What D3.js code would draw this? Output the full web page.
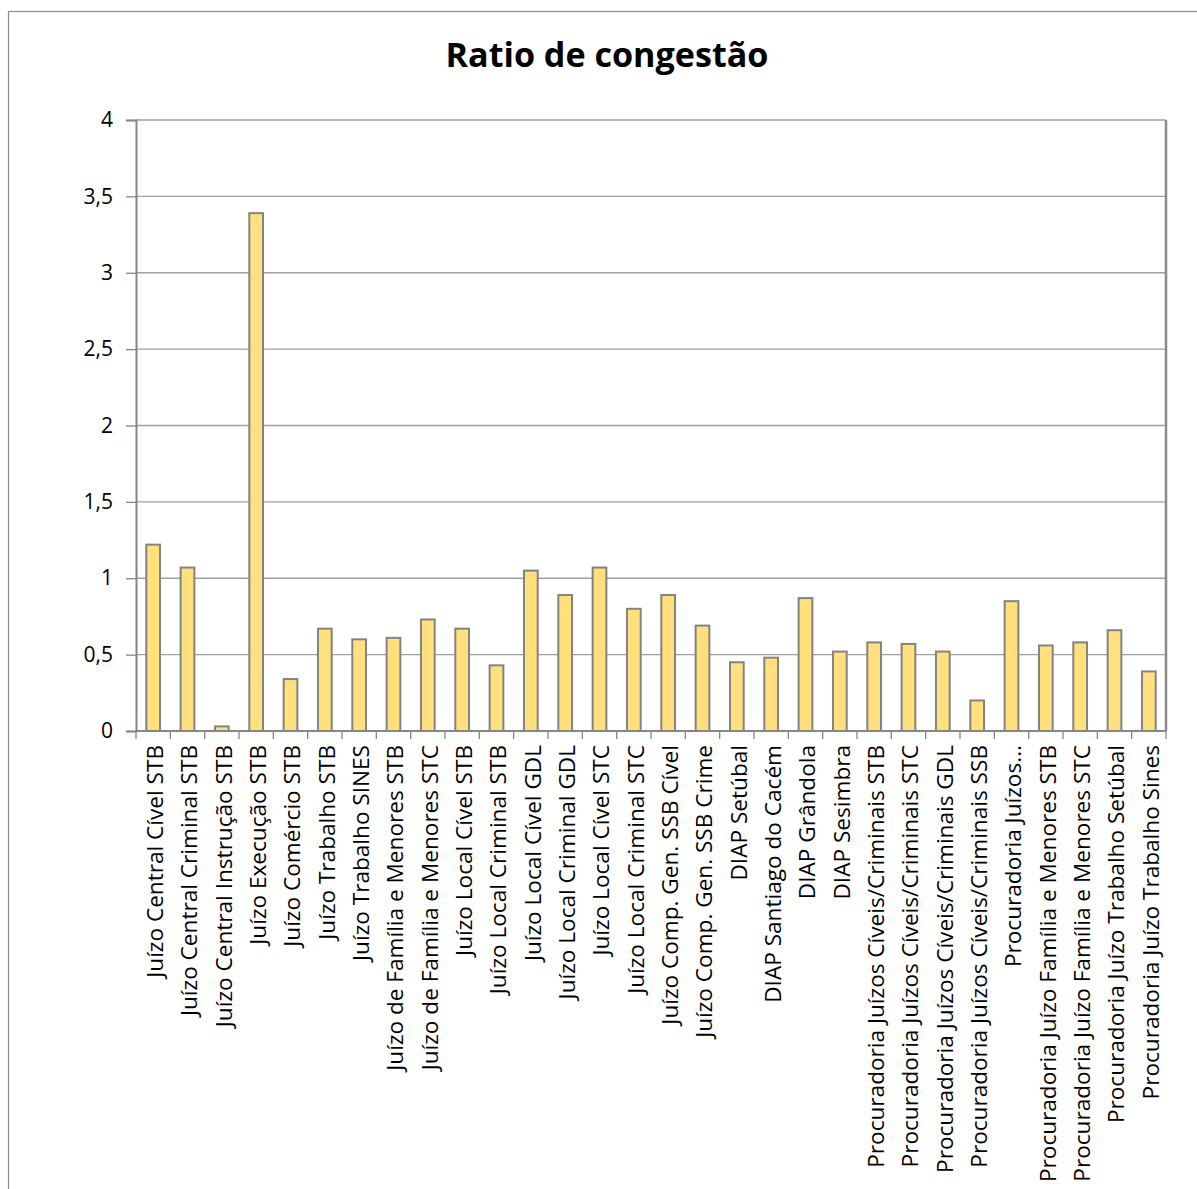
<!DOCTYPE html>
<html>
<head>
    <meta charset="utf-8">
    <title>Ratio de congestão</title>
    <script src="https://cdn.jsdelivr.net/npm/d3@7"></script>
    <style>
        body { margin: 0; background: #fff; }
        text { font-family: "Open Sans", "Noto Sans", sans-serif; fill: #000; }
    </style>
</head>
<body>
<svg width="1197" height="1189"></svg>

<script>
    const categories = [
        "Juízo Central Cível STB",
        "Juízo Central Criminal STB",
        "Juízo Central Instrução STB",
        "Juízo Execução STB",
        "Juízo Comércio STB",
        "Juízo Trabalho STB",
        "Juízo Trabalho SINES",
        "Juízo de Família e Menores STB",
        "Juízo de Família e Menores STC",
        "Juízo Local Cível STB",
        "Juízo Local Criminal STB",
        "Juízo Local Cível GDL",
        "Juízo Local Criminal GDL",
        "Juízo Local Cível STC",
        "Juízo Local Criminal STC",
        "Juízo Comp. Gen. SSB Cível",
        "Juízo Comp. Gen. SSB Crime",
        "DIAP Setúbal",
        "DIAP Santiago do Cacém",
        "DIAP Grândola",
        "DIAP Sesimbra",
        "Procuradoria Juízos Cíveis/Criminais STB",
        "Procuradoria Juízos Cíveis/Criminais STC",
        "Procuradoria Juízos Cíveis/Criminais GDL",
        "Procuradoria Juízos Cíveis/Criminais SSB",
        "Procuradoria Juízos...",
        "Procuradoria Juízo Família e Menores STB",
        "Procuradoria Juízo Família e Menores STC",
        "Procuradoria Juízo Trabalho Setúbal",
        "Procuradoria Juízo Trabalho Sines"
    ];

    const values = [
        1.22, 1.07, 0.03, 3.39, 0.34, 0.67, 0.60, 0.61, 0.73, 0.67,
        0.43, 1.05, 0.89, 1.07, 0.80, 0.89, 0.69, 0.45, 0.48, 0.87,
        0.52, 0.58, 0.57, 0.52, 0.20, 0.85, 0.56, 0.58, 0.66, 0.39
    ];

    const yTicks = [0, 0.5, 1, 1.5, 2, 2.5, 3, 3.5, 4];

    const title = "Ratio de congestão";

    const svg = d3.select("svg");
    const plot = { left: 136, right: 1166, top: 120, bottom: 731 };

    // Outer chart frame
    svg.append("rect")
        .attr("x", 8.5)
        .attr("y", 11.5)
        .attr("width", 1220)
        .attr("height", 1220)
        .attr("fill", "none")
        .attr("stroke", "#8c8c8c")
        .attr("stroke-width", 1.2);

    const x = d3.scaleBand()
        .domain(categories)
        .range([plot.left, plot.right])
        .paddingInner(0.6)
        .paddingOuter(0.3);

    const y = d3.scaleLinear()
        .domain([0, 4])
        .range([plot.bottom, plot.top]);

    // Title
    const titleText = svg.append("text")
        .attr("x", 607)
        .attr("y", 67)
        .attr("text-anchor", "middle")
        .attr("font-weight", "bold")
        .attr("font-size", "34px")
        .text(title);
    const tw = titleText.node().getComputedTextLength();
    titleText.attr("font-size", (34 * 323 / tw) + "px");

    // Gridlines
    svg.append("g")
        .selectAll("line")
        .data(yTicks.filter(d => d > 0))
        .enter().append("line")
        .attr("x1", plot.left)
        .attr("x2", plot.right)
        .attr("y1", d => y(d))
        .attr("y2", d => y(d))
        .attr("stroke", "#a0a0a0")
        .attr("stroke-width", 1.3);

    // Right border of plot area
    svg.append("line")
        .attr("x1", plot.right)
        .attr("x2", plot.right)
        .attr("y1", plot.top)
        .attr("y2", plot.bottom)
        .attr("stroke", "#8c8c8c")
        .attr("stroke-width", 2.5);

    // Y axis
    const yAxis = svg.append("g")
        .attr("transform", `translate(${plot.left},0)`)
        .call(d3.axisLeft(y)
            .tickValues(yTicks)
            .tickSize(10)
            .tickPadding(13)
            .tickFormat(d => String(d).replace(".", ",")));
    yAxis.select(".domain").attr("stroke", "#868686").attr("stroke-width", 2);
    yAxis.selectAll(".tick line").attr("stroke", "#868686").attr("stroke-width", 1.3);
    yAxis.selectAll(".tick text")
        .attr("font-size", "21px")
        .attr("fill", "#000")
        .style("font-family", "'Open Sans', sans-serif");

    // Bars
    svg.selectAll(".bar")
        .data(values)
        .enter().append("rect")
        .attr("class", "bar")
        .attr("x", (d, i) => x(categories[i]))
        .attr("y", d => y(d))
        .attr("width", x.bandwidth())
        .attr("height", d => y(0) - y(d))
        .attr("fill", "#ffe07d")
        .attr("stroke", "#838383")
        .attr("stroke-width", 2);

    // X axis line and tick marks between categories
    svg.append("line")
        .attr("x1", plot.left)
        .attr("x2", plot.right)
        .attr("y1", plot.bottom)
        .attr("y2", plot.bottom)
        .attr("stroke", "#868686")
        .attr("stroke-width", 2);

    const step = x.step();
    svg.append("g")
        .selectAll("line")
        .data(d3.range(categories.length + 1))
        .enter().append("line")
        .attr("x1", i => plot.left + i * step)
        .attr("x2", i => plot.left + i * step)
        .attr("y1", plot.bottom)
        .attr("y2", plot.bottom + 8)
        .attr("stroke", "#868686")
        .attr("stroke-width", 1.3);

    // Category labels, rotated
    const labels = svg.append("g")
        .selectAll("text")
        .data(categories)
        .enter().append("text")
        .attr("transform", d => `translate(${x(d) + x.bandwidth() / 2 + 2},745) rotate(-90)`)
        .attr("text-anchor", "end")
        .attr("dy", "0.35em")
        .attr("font-size", "20px")
        .text(d => d);

    // fit label size so the longest measured label matches the reference length
    const refNode = labels.filter((d, i) => i === 21).node();
    const refLen = refNode.getComputedTextLength();
    labels.attr("font-size", (20 * 423 / refLen) + "px");
</script>
</body>
</html>
